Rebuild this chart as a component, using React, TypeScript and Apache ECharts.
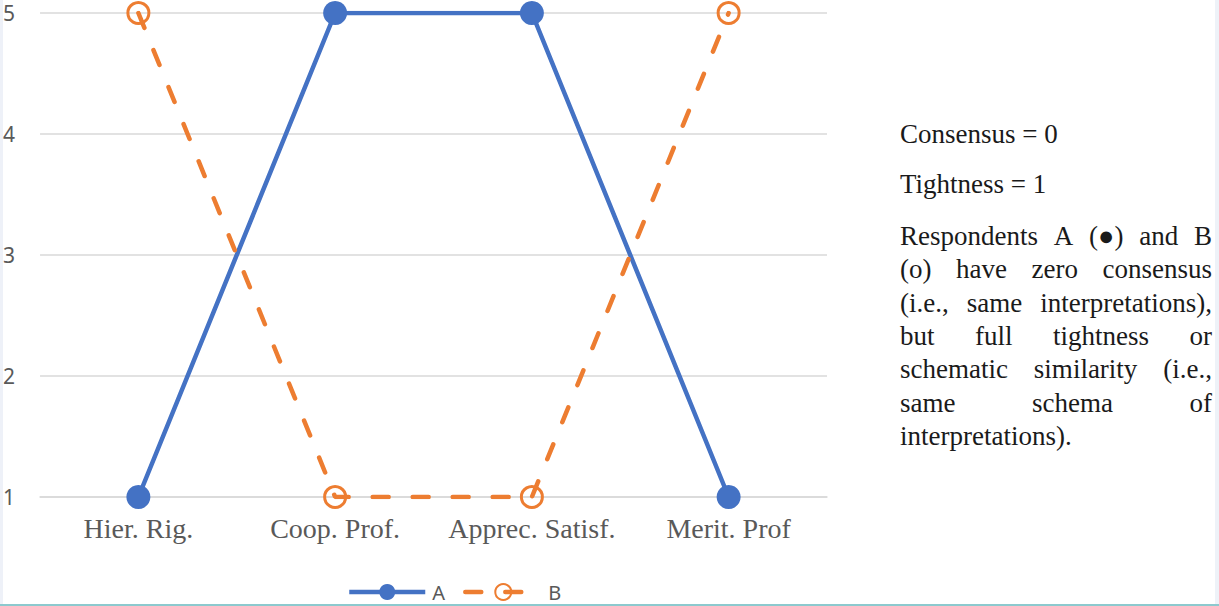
import React, { useEffect, useRef } from "react";
import * as echarts from "echarts";

const categories = ["Hier. Rig.", "Coop. Prof.", "Apprec. Satisf.", "Merit. Prof"];
const seriesA = [1, 5, 5, 1];
const seriesB = [5, 1, 1, 5];
const seriesNames = ["A", "B"];
const yMin = 1;
const yMax = 5;
const yInterval = 1;
const noteHeader = ["Consensus = 0", "Tightness = 1"];
const noteLines = [
  "Respondents A (●) and B",
  "(o) have zero consensus",
  "(i.e., same interpretations),",
  "but full tightness or",
  "schematic similarity (i.e.,",
  "same schema of",
  "interpretations).",
];

const SERIF = "Liberation Serif";
const SANS = "Noto Sans";

function buildNoteGraphics() {
  const fontSize = 27;
  const left = 900;
  const right = 1212;
  const canvas = document.createElement("canvas");
  const ctx = canvas.getContext("2d")!;
  ctx.font = `${fontSize}px "Liberation Serif"`;
  const els: any[] = [];
  const textEl = (t: string, x: number, y: number) => ({
    type: "text",
    x,
    y,
    silent: true,
    style: {
      text: t,
      fontFamily: SERIF,
      fontSize,
      fill: "#1a1a1a",
      align: "left",
      verticalAlign: "middle",
    },
  });
  const headerBaselines = [143, 193];
  noteHeader.forEach((t, i) => els.push(textEl(t, left, headerBaselines[i] - 9)));
  const base0 = 245;
  const step = 33.3;
  noteLines.forEach((line, i) => {
    const y = base0 + i * step - 9;
    const words = line.split(" ");
    if (i === noteLines.length - 1 || words.length === 1) {
      els.push(textEl(line, left, y));
      return;
    }
    const widths = words.map((w) => ctx.measureText(w).width);
    const total = widths.reduce((a, b) => a + b, 0);
    const gap = (right - left - total) / (words.length - 1);
    let x = left;
    words.forEach((w, j) => {
      els.push(textEl(w, x, y));
      x += widths[j] + gap;
    });
  });
  return els;
}

export default function App() {
  const ref = useRef<HTMLDivElement>(null);
  useEffect(() => {
    if (!ref.current) return;
    const chart = echarts.init(ref.current, null, { renderer: "svg" });
    const option: any = {
      animation: false,
      backgroundColor: "#ffffff",
      grid: { left: 40, right: 392, top: 13, bottom: 109, containLabel: false },
      legend: {
        data: seriesNames,
        left: 342,
        top: 577,
        itemWidth: 76,
        itemHeight: 20,
        itemGap: 18,
        lineStyle: { width: 4.5 },
        textStyle: {
          fontFamily: SANS,
          fontSize: 20,
          lineHeight: 20,
          color: "#595959",
          padding: [0, 0, 0, 2],
        },
      },
      xAxis: {
        type: "category",
        data: categories,
        axisLine: { lineStyle: { color: "#d9d9d9", width: 1.5 } },
        axisTick: { show: false },
        axisLabel: {
          interval: 0,
          fontFamily: SERIF,
          fontSize: 28,
          color: "#595959",
          margin: 17,
        },
      },
      yAxis: {
        type: "value",
        min: yMin,
        max: yMax,
        interval: yInterval,
        axisLine: { show: false },
        axisTick: { show: false },
        splitLine: { lineStyle: { color: "#d9d9d9", width: 1.5 } },
        axisLabel: {
          fontFamily: SANS,
          fontSize: 21,
          color: "#595959",
          margin: 25,
        },
      },
      series: [
        {
          name: seriesNames[0],
          type: "line",
          data: seriesA,
          symbol: "circle",
          symbolSize: 24,
          itemStyle: { color: "#4472C4" },
          lineStyle: { color: "#4472C4", width: 4.5 },
          z: 2,
        },
        {
          name: seriesNames[1],
          type: "line",
          data: seriesB,
          symbol: "circle",
          symbolSize: 21,
          itemStyle: { color: "rgba(255,255,255,0)", borderColor: "#ED7D31", borderWidth: 3 },
          lineStyle: { color: "#ED7D31", width: 4.5, type: [16, 24], cap: "round" },
          z: 3,
        },
      ],
      graphic: [
        { type: "rect", shape: { x: 0, y: 0, width: 3, height: 606 }, style: { fill: "#eef1f8" }, silent: true },
        { type: "rect", shape: { x: 1215, y: 0, width: 4, height: 606 }, style: { fill: "#eef2f8" }, silent: true },
        { type: "rect", shape: { x: 0, y: 604, width: 1219, height: 2 }, style: { fill: "#8cc9ce" }, silent: true },
        ...buildNoteGraphics(),
      ],
    };
    chart.setOption(option);
    return () => chart.dispose();
  }, []);
  return (
    <div
      ref={ref}
      style={{ position: "fixed", left: 0, top: 0, width: 1219, height: 606 }}
    />
  );
}
